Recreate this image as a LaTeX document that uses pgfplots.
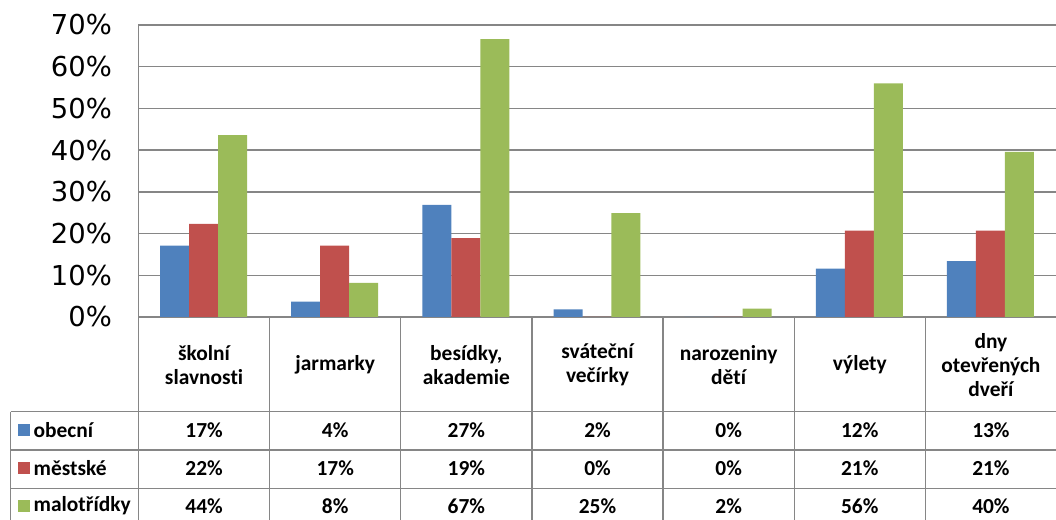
\documentclass[border=0pt]{standalone}
\usepackage{fontspec}
\setmainfont{Carlito}[Ligatures=NoCommon]
\newfontfamily\tickfont{DejaVu Sans}
\usepackage{pgfplots}
\usepackage{pgfplotstable}
\pgfplotsset{compat=1.18}
\pgfkeys{/pgf/number format/assume math mode=true}

\definecolor{obecni}{HTML}{4F81BD}
\definecolor{mestske}{HTML}{C0504D}
\definecolor{malotridky}{HTML}{9BBB59}
\definecolor{gridgray}{HTML}{868686}

% shares of schools (in %) by event type
\pgfplotstableread{
x obecni mestske malotridky
0 17.1 22.3 43.6
1 3.7 17.1 8.2
2 26.9 18.9 66.6
3 1.8 0.0 24.9
4 0.0 0.0 2.0
5 11.6 20.7 56.0
6 13.4 20.7 39.6
}\datatable

\newcommand{\cellfont}{\bfseries\fontsize{21.5}{24.5}\selectfont}
\newcommand{\cellval}[2]{\pgfplotstablegetelem{#1}{#2}\of\datatable\pgfmathprintnumber[fixed,precision=0]{\pgfplotsretval}\%}

\begin{document}
\begin{tikzpicture}
\begin{axis}[
  at={(138bp,203bp)}, anchor=south west,
  scale only axis, width=918bp, height=292bp,
  xmin=-0.5, xmax=6.5, ymin=0, ymax=70,
  ybar=0pt, bar width=0.221,
  xtick=\empty,
  ytick={0,10,...,70},
  yticklabel={\pgfmathprintnumber{\tick}\%},
  yticklabel style={font=\tickfont\fontsize{27.5}{27.5}\selectfont, anchor=east, inner sep=0pt, xshift=-26bp},
  major tick length=0pt,
  ymajorgrids, grid style={gridgray, line width=1.3bp},
  axis line style={draw=none},
  /pgf/number format/assume math mode=true,
  clip=false,
]
\addplot[fill=obecni, draw=none] table[x=x, y=obecni] {\datatable};
\addplot[fill=mestske, draw=none] table[x=x, y=mestske] {\datatable};
\addplot[fill=malotridky, draw=none] table[x=x, y=malotridky] {\datatable};
\end{axis}

% data table below the plot
\begin{scope}[x=1bp, y=-1bp, shift={(0,520bp)}]
  \def\cw{131.143}
  \draw[gridgray, line width=1.3bp] (138.5,25) -- (138.5,530);
  \draw[gridgray, line width=1.3bp] (10.5,411.7) -- (10.5,530);
  \foreach \yy in {411.7,450,488.5}
    \draw[gridgray, line width=1.3bp] (10.5,\yy) -- (1056,\yy);
  \foreach \i in {1,...,6}
    \draw[gridgray, line width=1.3bp] (138.5+\cw*\i,318) -- (138.5+\cw*\i,530);

  \foreach \name [count=\i from 0] in {{školní\\slavnosti},{jarmarky},{besídky,\\akademie},{sváteční\\večírky},{narozeniny\\dětí},{výlety},{dny\\otevřených\\dveří}}
    \node[align=center, font=\cellfont, inner sep=0pt] at (138.5+\cw*\i+\cw/2,365) {\name};

  \foreach \ser/\lab/\yy [count=\k] in {obecni/obecní/430.5,mestske/městské/468,malotridky/malotřídky/506} {
    \fill[\ser] (18,\yy-6) rectangle (30,\yy+6);
    \node[anchor=west, font=\cellfont, inner sep=0pt] at (33.5,\yy) {\lab};
    \foreach \i in {0,...,6}
      \node[font=\cellfont, inner sep=0pt] at (138.5+\cw*\i+\cw/2,\yy) {\cellval{\i}{\ser}};
  }
\end{scope}

\pgfresetboundingbox
\useasboundingbox (0,0) rectangle (1056bp,520bp);
\end{tikzpicture}
\end{document}
